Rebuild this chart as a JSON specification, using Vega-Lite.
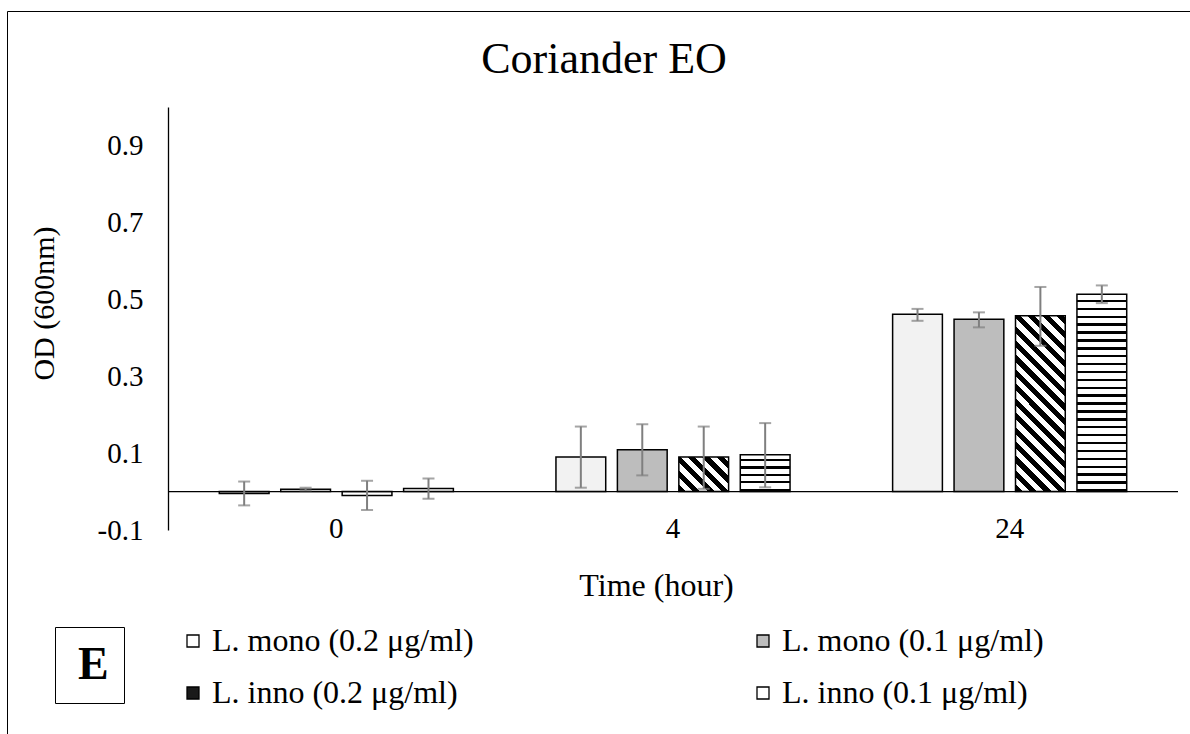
{
  "$schema": "https://vega.github.io/schema/vega-lite/v6.json",
  "width": 1010,
  "height": 423,
  "autosize": {"type": "none"},
  "padding": {"left": 168, "top": 107, "right": 12, "bottom": 204},
  "background": "white",
  "config": {
    "view": {"stroke": null},
    "font": "Liberation Serif",
    "title": {"font": "Liberation Serif", "fontWeight": "normal", "color": "black"},
    "style": {"group-title": {"font": "Liberation Serif", "fontWeight": "normal"}},
    "axis": {"labelFont": "Liberation Serif", "titleFont": "Liberation Serif", "labelColor": "black", "titleColor": "black", "titleFontWeight": "normal"},
    "legend": {"labelFont": "Liberation Serif", "labelColor": "black"}
  },
  "title": {
    "text": "Coriander EO",
    "font": "Liberation Serif",
    "fontSize": 44,
    "fontWeight": "normal",
    "color": "black",
    "anchor": "middle",
    "frame": "group",
    "dx": -69,
    "dy": 132,
    "offset": 26,
    "baseline": "alphabetic"
  },
  "data": {
    "values": [
      {"time": "0", "series": "L. mono (0.2 μg/ml)", "od": -0.005, "lo": -0.036, "hi": 0.026},
      {"time": "0", "series": "L. mono (0.1 μg/ml)", "od": 0.006, "lo": 0.003, "hi": 0.010},
      {"time": "0", "series": "L. inno (0.2 μg/ml)", "od": -0.010, "lo": -0.048, "hi": 0.028},
      {"time": "0", "series": "L. inno (0.1 μg/ml)", "od": 0.008, "lo": -0.019, "hi": 0.034},
      {"time": "4", "series": "L. mono (0.2 μg/ml)", "od": 0.090, "lo": 0.010, "hi": 0.169},
      {"time": "4", "series": "L. mono (0.1 μg/ml)", "od": 0.109, "lo": 0.042, "hi": 0.175},
      {"time": "4", "series": "L. inno (0.2 μg/ml)", "od": 0.090, "lo": 0.007, "hi": 0.169},
      {"time": "4", "series": "L. inno (0.1 μg/ml)", "od": 0.096, "lo": 0.011, "hi": 0.178},
      {"time": "24", "series": "L. mono (0.2 μg/ml)", "od": 0.461, "lo": 0.444, "hi": 0.475},
      {"time": "24", "series": "L. mono (0.1 μg/ml)", "od": 0.448, "lo": 0.427, "hi": 0.466},
      {"time": "24", "series": "L. inno (0.2 μg/ml)", "od": 0.457, "lo": 0.379, "hi": 0.532},
      {"time": "24", "series": "L. inno (0.1 μg/ml)", "od": 0.513, "lo": 0.490, "hi": 0.536}
    ]
  },
  "layer": [
    {
      "mark": {"type": "bar", "stroke": "black", "strokeWidth": 1.5},
      "encoding": {
        "x": {
          "field": "time", "type": "nominal", "sort": ["0", "4", "24"],
          "scale": {"paddingInner": 0.27, "paddingOuter": 0.135},
          "axis": {
            "title": "Time (hour)", "domain": false, "ticks": false, "tickSize": 0,
            "labelAngle": 0, "labelFontSize": 29, "labelPadding": -16,
            "titleFontSize": 32, "titleX": 488, "titleY": 65, "titleBaseline": "alphabetic"
          }
        },
        "xOffset": {
          "field": "series", "type": "nominal",
          "sort": ["L. mono (0.2 μg/ml)", "L. mono (0.1 μg/ml)", "L. inno (0.2 μg/ml)", "L. inno (0.1 μg/ml)"],
          "scale": {"paddingInner": 0.19, "paddingOuter": 0.095}
        },
        "y": {
          "field": "od", "type": "quantitative",
          "scale": {"domain": [-0.1, 1.0], "nice": false, "zero": false},
          "axis": {
            "title": "OD (600nm)", "values": [-0.1, 0.1, 0.3, 0.5, 0.7, 0.9],
            "labelExpr": "datum.value < 0 ? '-' + format(-datum.value, '.1f') : format(datum.value, '.1f')",
            "grid": false, "ticks": false, "tickSize": 0,
            "domainColor": "black", "domainWidth": 1.3,
            "labelFontSize": 29, "labelPadding": 25,
            "titleFontSize": 30, "titleX": -124, "titleY": 196, "titleAngle": 270,
            "titleBaseline": "middle", "titleAlign": "center"
          }
        },
        "y2": {"datum": 0},
        "fill": {
          "field": "series", "type": "nominal",
          "scale": {
            "domain": ["L. mono (0.2 μg/ml)", "L. mono (0.1 μg/ml)", "L. inno (0.2 μg/ml)", "L. inno (0.1 μg/ml)"],
            "range": ["#ffffff", "#bdbdbd", "#1a1a1a", "#ffffff"]
          },
          "legend": {
            "title": null, "orient": "none", "legendX": 9, "legendY": 518,
            "direction": "horizontal", "columns": 2, "columnPadding": 273, "rowPadding": 20,
            "symbolType": "square", "symbolSize": 144, "symbolStrokeColor": "black", "symbolStrokeWidth": 1.3,
            "labelFontSize": 32, "labelOffset": 3, "labelLimit": 500, "padding": 0
          },
          "condition": [
            {"test": "datum.time === '0'", "value": "white"},
            {"test": "datum.series === 'L. mono (0.2 μg/ml)'", "value": "#f2f2f2"},
            {"test": "datum.series === 'L. mono (0.1 μg/ml)'", "value": "#bdbdbd"},
            {"test": "datum.series === 'L. inno (0.2 μg/ml)' && datum.time === '24'", "value":
              {"gradient": "linear", "x1": 0, "y1": 1, "x2": 0.3366, "y2": -0.1881, "stops": [
                {"offset": 0, "color": "black"}, {"offset": 0.032, "color": "black"}, {"offset": 0.032, "color": "white"}, {"offset": 0.064, "color": "white"},
                {"offset": 0.064, "color": "black"}, {"offset": 0.096, "color": "black"}, {"offset": 0.096, "color": "white"}, {"offset": 0.128, "color": "white"},
                {"offset": 0.128, "color": "black"}, {"offset": 0.16, "color": "black"}, {"offset": 0.16, "color": "white"}, {"offset": 0.192, "color": "white"},
                {"offset": 0.192, "color": "black"}, {"offset": 0.224, "color": "black"}, {"offset": 0.224, "color": "white"}, {"offset": 0.256, "color": "white"},
                {"offset": 0.256, "color": "black"}, {"offset": 0.288, "color": "black"}, {"offset": 0.288, "color": "white"}, {"offset": 0.32, "color": "white"},
                {"offset": 0.32, "color": "black"}, {"offset": 0.352, "color": "black"}, {"offset": 0.352, "color": "white"}, {"offset": 0.384, "color": "white"},
                {"offset": 0.384, "color": "black"}, {"offset": 0.416, "color": "black"}, {"offset": 0.416, "color": "white"}, {"offset": 0.448, "color": "white"},
                {"offset": 0.448, "color": "black"}, {"offset": 0.48, "color": "black"}, {"offset": 0.48, "color": "white"}, {"offset": 0.512, "color": "white"},
                {"offset": 0.512, "color": "black"}, {"offset": 0.544, "color": "black"}, {"offset": 0.544, "color": "white"}, {"offset": 0.576, "color": "white"},
                {"offset": 0.576, "color": "black"}, {"offset": 0.608, "color": "black"}, {"offset": 0.608, "color": "white"}, {"offset": 0.64, "color": "white"},
                {"offset": 0.64, "color": "black"}, {"offset": 0.672, "color": "black"}, {"offset": 0.672, "color": "white"}, {"offset": 0.704, "color": "white"},
                {"offset": 0.704, "color": "black"}, {"offset": 0.736, "color": "black"}, {"offset": 0.736, "color": "white"}, {"offset": 0.768, "color": "white"},
                {"offset": 0.768, "color": "black"}, {"offset": 0.8, "color": "black"}, {"offset": 0.8, "color": "white"}, {"offset": 0.832, "color": "white"},
                {"offset": 0.832, "color": "black"}, {"offset": 0.864, "color": "black"}, {"offset": 0.864, "color": "white"}, {"offset": 0.896, "color": "white"},
                {"offset": 0.896, "color": "black"}, {"offset": 0.928, "color": "black"}, {"offset": 0.928, "color": "white"}, {"offset": 0.96, "color": "white"},
                {"offset": 0.96, "color": "black"}, {"offset": 0.992, "color": "black"}, {"offset": 0.992, "color": "white"}, {"offset": 1, "color": "white"}]}},
            {"test": "datum.series === 'L. inno (0.2 μg/ml)'", "value":
              {"gradient": "linear", "x1": 0, "y1": 1, "x2": 1.1429, "y2": 0.2054, "stops": [
                {"offset": 0, "color": "black"}, {"offset": 0.085, "color": "black"}, {"offset": 0.085, "color": "white"}, {"offset": 0.171, "color": "white"},
                {"offset": 0.171, "color": "black"}, {"offset": 0.256, "color": "black"}, {"offset": 0.256, "color": "white"}, {"offset": 0.341, "color": "white"},
                {"offset": 0.341, "color": "black"}, {"offset": 0.427, "color": "black"}, {"offset": 0.427, "color": "white"}, {"offset": 0.512, "color": "white"},
                {"offset": 0.512, "color": "black"}, {"offset": 0.597, "color": "black"}, {"offset": 0.597, "color": "white"}, {"offset": 0.683, "color": "white"},
                {"offset": 0.683, "color": "black"}, {"offset": 0.768, "color": "black"}, {"offset": 0.768, "color": "white"}, {"offset": 0.854, "color": "white"},
                {"offset": 0.854, "color": "black"}, {"offset": 0.939, "color": "black"}, {"offset": 0.939, "color": "white"}, {"offset": 1, "color": "white"}]}},
            {"test": "datum.series === 'L. inno (0.1 μg/ml)' && datum.time === '24'", "value":
              {"gradient": "linear", "x1": 0, "y1": 0, "x2": 0, "y2": 1, "stops": [
                {"offset": 0, "color": "white"},
                {"offset": 0.028, "color": "white"}, {"offset": 0.028, "color": "black"}, {"offset": 0.04, "color": "black"}, {"offset": 0.04, "color": "white"},
                {"offset": 0.068, "color": "white"}, {"offset": 0.068, "color": "black"}, {"offset": 0.08, "color": "black"}, {"offset": 0.08, "color": "white"},
                {"offset": 0.108, "color": "white"}, {"offset": 0.108, "color": "black"}, {"offset": 0.12, "color": "black"}, {"offset": 0.12, "color": "white"},
                {"offset": 0.148, "color": "white"}, {"offset": 0.148, "color": "black"}, {"offset": 0.16, "color": "black"}, {"offset": 0.16, "color": "white"},
                {"offset": 0.188, "color": "white"}, {"offset": 0.188, "color": "black"}, {"offset": 0.2, "color": "black"}, {"offset": 0.2, "color": "white"},
                {"offset": 0.228, "color": "white"}, {"offset": 0.228, "color": "black"}, {"offset": 0.24, "color": "black"}, {"offset": 0.24, "color": "white"},
                {"offset": 0.268, "color": "white"}, {"offset": 0.268, "color": "black"}, {"offset": 0.28, "color": "black"}, {"offset": 0.28, "color": "white"},
                {"offset": 0.308, "color": "white"}, {"offset": 0.308, "color": "black"}, {"offset": 0.32, "color": "black"}, {"offset": 0.32, "color": "white"},
                {"offset": 0.348, "color": "white"}, {"offset": 0.348, "color": "black"}, {"offset": 0.36, "color": "black"}, {"offset": 0.36, "color": "white"},
                {"offset": 0.388, "color": "white"}, {"offset": 0.388, "color": "black"}, {"offset": 0.4, "color": "black"}, {"offset": 0.4, "color": "white"},
                {"offset": 0.428, "color": "white"}, {"offset": 0.428, "color": "black"}, {"offset": 0.44, "color": "black"}, {"offset": 0.44, "color": "white"},
                {"offset": 0.468, "color": "white"}, {"offset": 0.468, "color": "black"}, {"offset": 0.48, "color": "black"}, {"offset": 0.48, "color": "white"},
                {"offset": 0.508, "color": "white"}, {"offset": 0.508, "color": "black"}, {"offset": 0.52, "color": "black"}, {"offset": 0.52, "color": "white"},
                {"offset": 0.548, "color": "white"}, {"offset": 0.548, "color": "black"}, {"offset": 0.56, "color": "black"}, {"offset": 0.56, "color": "white"},
                {"offset": 0.588, "color": "white"}, {"offset": 0.588, "color": "black"}, {"offset": 0.6, "color": "black"}, {"offset": 0.6, "color": "white"},
                {"offset": 0.628, "color": "white"}, {"offset": 0.628, "color": "black"}, {"offset": 0.64, "color": "black"}, {"offset": 0.64, "color": "white"},
                {"offset": 0.668, "color": "white"}, {"offset": 0.668, "color": "black"}, {"offset": 0.68, "color": "black"}, {"offset": 0.68, "color": "white"},
                {"offset": 0.708, "color": "white"}, {"offset": 0.708, "color": "black"}, {"offset": 0.72, "color": "black"}, {"offset": 0.72, "color": "white"},
                {"offset": 0.748, "color": "white"}, {"offset": 0.748, "color": "black"}, {"offset": 0.76, "color": "black"}, {"offset": 0.76, "color": "white"},
                {"offset": 0.788, "color": "white"}, {"offset": 0.788, "color": "black"}, {"offset": 0.8, "color": "black"}, {"offset": 0.8, "color": "white"},
                {"offset": 0.828, "color": "white"}, {"offset": 0.828, "color": "black"}, {"offset": 0.84, "color": "black"}, {"offset": 0.84, "color": "white"},
                {"offset": 0.868, "color": "white"}, {"offset": 0.868, "color": "black"}, {"offset": 0.88, "color": "black"}, {"offset": 0.88, "color": "white"},
                {"offset": 0.908, "color": "white"}, {"offset": 0.908, "color": "black"}, {"offset": 0.92, "color": "black"}, {"offset": 0.92, "color": "white"},
                {"offset": 0.948, "color": "white"}, {"offset": 0.948, "color": "black"}, {"offset": 0.96, "color": "black"}, {"offset": 0.96, "color": "white"},
                {"offset": 0.988, "color": "white"}, {"offset": 0.988, "color": "black"}, {"offset": 1, "color": "black"}]}},
            {"test": "datum.series === 'L. inno (0.1 μg/ml)'", "value":
              {"gradient": "linear", "x1": 0, "y1": 0, "x2": 0, "y2": 1, "stops": [
                {"offset": 0, "color": "white"},
                {"offset": 0.12, "color": "white"}, {"offset": 0.12, "color": "black"}, {"offset": 0.18, "color": "black"}, {"offset": 0.18, "color": "white"},
                {"offset": 0.32, "color": "white"}, {"offset": 0.32, "color": "black"}, {"offset": 0.38, "color": "black"}, {"offset": 0.38, "color": "white"},
                {"offset": 0.52, "color": "white"}, {"offset": 0.52, "color": "black"}, {"offset": 0.58, "color": "black"}, {"offset": 0.58, "color": "white"},
                {"offset": 0.72, "color": "white"}, {"offset": 0.72, "color": "black"}, {"offset": 0.78, "color": "black"}, {"offset": 0.78, "color": "white"},
                {"offset": 0.92, "color": "white"}, {"offset": 0.92, "color": "black"}, {"offset": 0.98, "color": "black"}, {"offset": 0.98, "color": "white"},
                {"offset": 1, "color": "white"}]}}
          ]
        }
      }
    },
    {
      "data": {"values": [{"baseline": 0}]},
      "mark": {"type": "rule", "strokeWidth": 1.3},
      "encoding": {
        "y": {"field": "baseline", "type": "quantitative"},
        "stroke": {
          "datum": "chart area", "type": "nominal",
          "scale": {"range": ["black"]},
          "legend": {
            "title": null, "orient": "none", "legendX": -161, "legendY": -96,
            "strokeColor": "black", "padding": 900,
            "symbolOpacity": 0, "labelExpr": "''"
          }
        }
      }
    },
    {
      "mark": {"type": "rule", "color": "#7f7f7f", "strokeWidth": 2},
      "encoding": {
        "x": {"field": "time", "type": "nominal", "sort": ["0", "4", "24"]},
        "xOffset": {"field": "series", "type": "nominal", "sort": ["L. mono (0.2 μg/ml)", "L. mono (0.1 μg/ml)", "L. inno (0.2 μg/ml)", "L. inno (0.1 μg/ml)"]},
        "y": {"field": "lo", "type": "quantitative"},
        "y2": {"field": "hi"},
        "strokeDash": {
          "datum": "E", "type": "nominal",
          "legend": {
            "title": null, "orient": "none", "legendX": -113, "legendY": 520,
            "strokeColor": "black", "padding": 15,
            "symbolSize": 0, "symbolOpacity": 0, "symbolStrokeWidth": 0, "labelOffset": -38,
            "labelFontSize": 46, "labelFontWeight": "bold"
          }
        }
      }
    },
    {
      "mark": {"type": "tick", "color": "#7f7f7f", "size": 12, "thickness": 2},
      "encoding": {
        "x": {"field": "time", "type": "nominal", "sort": ["0", "4", "24"]},
        "xOffset": {"field": "series", "type": "nominal", "sort": ["L. mono (0.2 μg/ml)", "L. mono (0.1 μg/ml)", "L. inno (0.2 μg/ml)", "L. inno (0.1 μg/ml)"]},
        "y": {"field": "lo", "type": "quantitative"}
      }
    },
    {
      "mark": {"type": "tick", "color": "#7f7f7f", "size": 12, "thickness": 2},
      "encoding": {
        "x": {"field": "time", "type": "nominal", "sort": ["0", "4", "24"]},
        "xOffset": {"field": "series", "type": "nominal", "sort": ["L. mono (0.2 μg/ml)", "L. mono (0.1 μg/ml)", "L. inno (0.2 μg/ml)", "L. inno (0.1 μg/ml)"]},
        "y": {"field": "hi", "type": "quantitative"}
      }
    }
  ]
}
